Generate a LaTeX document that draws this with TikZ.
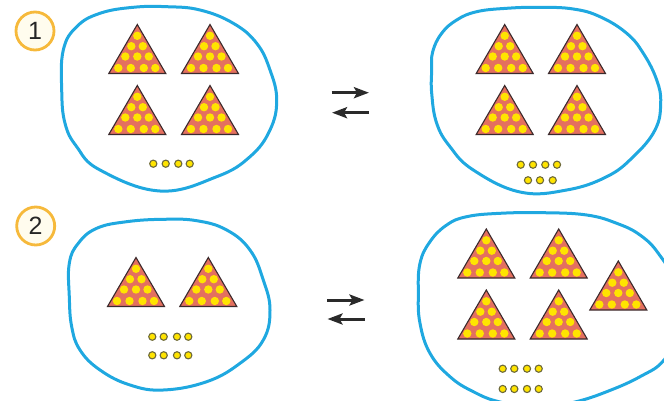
\documentclass[tikz,border=0pt]{standalone}
\usepackage{fontspec}
\setmainfont{Liberation Sans}
\usetikzlibrary{arrows.meta}
\definecolor{blobblue}{HTML}{1FA8E0}
\definecolor{badgeorange}{HTML}{F6B93B}
\definecolor{badgefill}{HTML}{FFFCEE}
\definecolor{trired}{HTML}{E4705F}
\definecolor{triedge}{HTML}{3B2A2C}
\definecolor{dotyellow}{HTML}{FFE400}
\definecolor{dotedge}{HTML}{6E6A3A}
\definecolor{arrowdark}{HTML}{2A2A2A}
\tikzset{
  blob/.style={draw=blobblue,line width=3pt},
  badge/.style={circle,draw=badgeorange,fill=badgefill,line width=2.8pt,minimum size=38pt,inner sep=0pt,font=\fontsize{25}{25}\selectfont,text=black!85},
  triangleshape/.style={draw=triedge,fill=trired,line width=1.1pt,line join=miter},
  bigdot/.style={fill=dotyellow},
  smalldot/.style={draw=dotedge,fill=dotyellow,line width=1.1pt},
  balance/.style={draw=arrowdark,line width=3pt,-{Stealth[length=15pt,width=11pt,inset=3pt]}},
  tri/.pic={
    \path[triangleshape] (0,0) -- (28.5,49) -- (-28.5,49) -- cycle;
    \foreach \dx/\dy in {0/11.3,-6/21.7,5.5/21.7,-12/32,0/32,11.5/32,-19/43.5,-6.5/43.5,6.5/43.5,18/43.5}
      \fill[bigdot] (\dx,\dy) circle (4.2);
  }
}
\newcommand{\smalldots}[2]{\foreach \sx in {#1} \path[smalldot] (\sx,#2) circle (3.6);}
\begin{document}
\begin{tikzpicture}[x=1pt,y=-1pt]
\useasboundingbox (0,0) rectangle (664,401);
\clip (0,0) rectangle (664,401);
% blobs
\draw[blob,smooth cycle,tension=0.7] plot coordinates {
(63.3,50) (76.7,26.7) (100,13.3) (133.3,7.3) (166.7,6.7) (200,10) (233.3,23.3) (256.7,43.3) (270,70) (276.7,100) (270,130) (250,156.7) (216.7,176.7) (160,191) (100,170) (76.7,146.7) (65,123.3) (61.7,90)};
\draw[blob,smooth cycle,tension=0.7] plot coordinates {
(432.7,51.7) (441.7,33.3) (456.7,20) (476.7,11.7) (506.7,8.3) (540,7.3) (573.3,9) (600,16.7) (626.7,33.3) (643.3,53.3) (656.7,80) (660.7,103.3) (655,130) (633.3,156.7) (606.7,176.7) (566.7,190) (520,192) (473.3,170) (450,146.7) (436.7,123.3) (431.7,93.3) (431.7,70)};
\draw[blob,smooth cycle,tension=0.7] plot coordinates {
(69.3,263.3) (78.3,243.3) (96.7,228.3) (126.7,221.7) (163.3,219.3) (196.7,220.7) (226.7,230) (250,250) (263.3,280) (270,310) (263.3,340) (240,363.3) (206.7,381.7) (163.3,390) (130,385) (100,370) (80,350) (71.7,326.7) (69.3,296.7)};
\draw[blob,smooth cycle,tension=0.7] plot coordinates {
(420,263.3) (430,241.7) (446.7,225) (466.7,216.7) (500,213.3) (543.3,212.7) (586.7,215) (616.7,223.3) (640,235) (658.3,253.3) (672,280) (678,330) (664,360) (640,376.7) (606.7,391.7) (575,402) (540,408) (500,402) (473.3,391.7) (450,376.7) (430,353.3) (420,323.3) (418.3,293.3)};
% badges
\node[badge] (b1) at (35,31) {1};
\node[badge] (b2) at (35.7,226) {2};
\node[badge] (b3) at (35,422) {};
% triangles
\path (137.3,24.5) pic {tri} (210,24.5) pic {tri} (137.3,85.5) pic {tri} (210,85.5) pic {tri};
\path (504.7,24.5) pic {tri} (577,24.5) pic {tri} (504.7,85.5) pic {tri} (577,85.5) pic {tri};
\path (136,257.5) pic {tri} (208.3,257.5) pic {tri};
\path (486.3,229) pic {tri} (558.7,229) pic {tri} (486.3,290) pic {tri} (558.7,290) pic {tri} (618.3,261) pic {tri};
% small dots
\smalldots{153.3,165.7,178.3,189.7}{163.7}
\smalldots{520.7,533,545.3,557}{164.7}
\smalldots{528,540,552.7}{180.3}
\smalldots{152.3,163.7,177,188.3}{336.7}
\smalldots{152.3,163.7,177,188.3}{355.3}
\smalldots{502.7,514.3,527,538.7}{368.7}
\smalldots{502.7,514.3,527,538.7}{389}
% arrows
\coordinate (a1s) at (331.5,92.7); \coordinate (a1e) at (369,92.7);
\coordinate (a2s) at (369,112.7); \coordinate (a2e) at (332,112.7);
\coordinate (a3s) at (327,300); \coordinate (a3e) at (364.5,300);
\coordinate (a4s) at (364.5,319); \coordinate (a4e) at (327.5,319);
\draw[balance] (a1s) -- (a1e);
\draw[balance] (a2s) -- (a2e);
\draw[balance] (a3s) -- (a3e);
\draw[balance] (a4s) -- (a4e);
\end{tikzpicture}
\end{document}
